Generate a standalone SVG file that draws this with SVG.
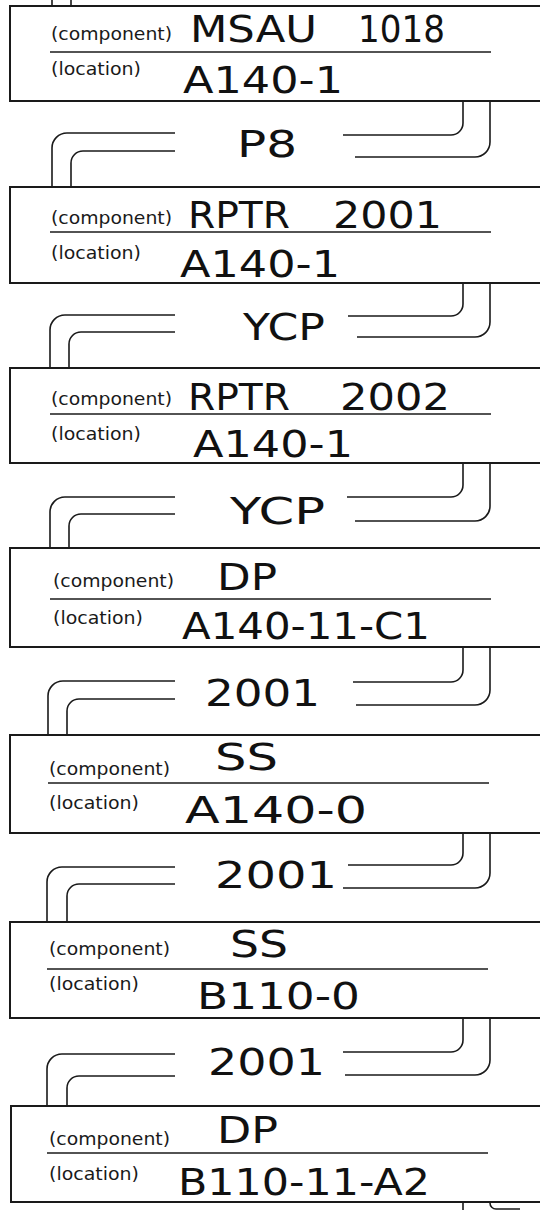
<svg xmlns="http://www.w3.org/2000/svg" width="540" height="1210" viewBox="0 0 540 1210">
<style>
.box{fill:#fff;stroke:#1a1a1a;stroke-width:2}
.div{stroke:#1a1a1a;stroke-width:1.5}
.lbl{font-family:"DejaVu Sans","Liberation Sans",sans-serif;font-size:17.5px;fill:#1a1a1a}
.hw{font-family:"DejaVu Sans","Liberation Sans",sans-serif;font-size:38px;fill:#111}
.cn{fill:none;stroke:#1a1a1a;stroke-width:1.6}
</style>
<rect width="540" height="1210" fill="#fff"/>
<g id="connectors">
<path class="cn" d="M52,0V6M71,0V6"/>
<path class="cn" d="M463,101V123A12,12 0 0 1 451,135H343M490,101V142A15,15 0 0 1 475,157H355M175,133H67A15,15 0 0 0 52,148V187M175,151H83A12,12 0 0 0 71,163V187"/>
<path class="cn" d="M463,283V304A12,12 0 0 1 451,316H348M490,283V322A15,15 0 0 1 475,337H357M175,315H65A15,15 0 0 0 50,330V368M175,332H81A12,12 0 0 0 69,344V368"/>
<path class="cn" d="M463,463V485A12,12 0 0 1 451,497H347M490,463V506A15,15 0 0 1 475,521H355M175,497H65A15,15 0 0 0 50,512V548M175,514H81A12,12 0 0 0 69,526V548"/>
<path class="cn" d="M463,647V670A12,12 0 0 1 451,682H353M490,647V690A15,15 0 0 1 475,705H356M175,681H63A15,15 0 0 0 48,696V735M175,699H79A12,12 0 0 0 67,711V735"/>
<path class="cn" d="M463,833V853A12,12 0 0 1 451,865H348M490,833V873A15,15 0 0 1 475,888H343M175,867H62A15,15 0 0 0 47,882V922M175,884H79A12,12 0 0 0 67,896V922"/>
<path class="cn" d="M463,1018V1040A12,12 0 0 1 451,1052H343M490,1018V1060A15,15 0 0 1 475,1075H345M175,1054H62A15,15 0 0 0 47,1069V1106M175,1076H79A12,12 0 0 0 67,1088V1106"/>
<path class="cn" d="M463,1202V1210M490,1202V1203A6,6 0 0 0 496,1209H520"/>
<text class="hw" x="237" y="157" textLength="60" lengthAdjust="spacingAndGlyphs">P8</text>
<text class="hw" x="243" y="340" textLength="82" lengthAdjust="spacingAndGlyphs">YCP</text>
<text class="hw" x="230" y="524" textLength="95" lengthAdjust="spacingAndGlyphs">YCP</text>
<text class="hw" x="205" y="706" textLength="115" lengthAdjust="spacingAndGlyphs">2001</text>
<text class="hw" x="215" y="888" textLength="122" lengthAdjust="spacingAndGlyphs">2001</text>
<text class="hw" x="208" y="1075" textLength="117" lengthAdjust="spacingAndGlyphs">2001</text>
</g>
<g id="n1">
<rect class="box" x="10" y="6" width="560" height="95"/>
<line class="div" x1="50" y1="52" x2="491" y2="52"/>
<text class="lbl" x="51" y="40" textLength="121" lengthAdjust="spacingAndGlyphs">(component)</text>
<text class="lbl" x="51" y="75" textLength="90" lengthAdjust="spacingAndGlyphs">(location)</text>
<text class="hw" y="42"><tspan x="190" textLength="127" lengthAdjust="spacingAndGlyphs">MSAU</tspan> <tspan x="358" textLength="87" lengthAdjust="spacingAndGlyphs">1018</tspan></text>
<text class="hw" x="183" y="93" textLength="160" lengthAdjust="spacingAndGlyphs">A140-1</text>
</g>
<g id="n2">
<rect class="box" x="10" y="187" width="560" height="96"/>
<line class="div" x1="50" y1="232" x2="491" y2="232"/>
<text class="lbl" x="51" y="224" textLength="121" lengthAdjust="spacingAndGlyphs">(component)</text>
<text class="lbl" x="51" y="259" textLength="90" lengthAdjust="spacingAndGlyphs">(location)</text>
<text class="hw" y="228"><tspan x="188" textLength="102" lengthAdjust="spacingAndGlyphs">RPTR</tspan> <tspan x="333" textLength="109" lengthAdjust="spacingAndGlyphs">2001</tspan></text>
<text class="hw" x="180" y="277" textLength="160" lengthAdjust="spacingAndGlyphs">A140-1</text>
</g>
<g id="n3">
<rect class="box" x="10" y="368" width="560" height="95"/>
<line class="div" x1="50" y1="414" x2="491" y2="414"/>
<text class="lbl" x="51" y="405" textLength="121" lengthAdjust="spacingAndGlyphs">(component)</text>
<text class="lbl" x="51" y="440" textLength="90" lengthAdjust="spacingAndGlyphs">(location)</text>
<text class="hw" y="410"><tspan x="188" textLength="102" lengthAdjust="spacingAndGlyphs">RPTR</tspan> <tspan x="340" textLength="110" lengthAdjust="spacingAndGlyphs">2002</tspan></text>
<text class="hw" x="193" y="457" textLength="160" lengthAdjust="spacingAndGlyphs">A140-1</text>
</g>
<g id="n4">
<rect class="box" x="10" y="548" width="560" height="99"/>
<line class="div" x1="50" y1="599" x2="491" y2="599"/>
<text class="lbl" x="53" y="587" textLength="121" lengthAdjust="spacingAndGlyphs">(component)</text>
<text class="lbl" x="53" y="624" textLength="90" lengthAdjust="spacingAndGlyphs">(location)</text>
<text class="hw" x="217" y="590" textLength="60" lengthAdjust="spacingAndGlyphs">DP</text>
<text class="hw" x="182" y="639" textLength="248" lengthAdjust="spacingAndGlyphs">A140-11-C1</text>
</g>
<g id="n5">
<rect class="box" x="10" y="735" width="560" height="98"/>
<line class="div" x1="48" y1="783" x2="489" y2="783"/>
<text class="lbl" x="49" y="775" textLength="121" lengthAdjust="spacingAndGlyphs">(component)</text>
<text class="lbl" x="49" y="809" textLength="90" lengthAdjust="spacingAndGlyphs">(location)</text>
<text class="hw" x="215" y="770" textLength="63" lengthAdjust="spacingAndGlyphs">SS</text>
<text class="hw" x="185" y="823" textLength="182" lengthAdjust="spacingAndGlyphs">A140-0</text>
</g>
<g id="n6">
<rect class="box" x="10" y="922" width="560" height="96"/>
<line class="div" x1="47" y1="969" x2="488" y2="969"/>
<text class="lbl" x="49" y="955" textLength="121" lengthAdjust="spacingAndGlyphs">(component)</text>
<text class="lbl" x="49" y="990" textLength="90" lengthAdjust="spacingAndGlyphs">(location)</text>
<text class="hw" x="230" y="957" textLength="58" lengthAdjust="spacingAndGlyphs">SS</text>
<text class="hw" x="197" y="1009" textLength="163" lengthAdjust="spacingAndGlyphs">B110-0</text>
</g>
<g id="n7">
<rect class="box" x="11" y="1106" width="560" height="96"/>
<line class="div" x1="47" y1="1153" x2="488" y2="1153"/>
<text class="lbl" x="49" y="1145" textLength="121" lengthAdjust="spacingAndGlyphs">(component)</text>
<text class="lbl" x="49" y="1180" textLength="90" lengthAdjust="spacingAndGlyphs">(location)</text>
<text class="hw" x="217" y="1143" textLength="61" lengthAdjust="spacingAndGlyphs">DP</text>
<text class="hw" x="178" y="1195" textLength="252" lengthAdjust="spacingAndGlyphs">B110-11-A2</text>
</g>
</svg>
